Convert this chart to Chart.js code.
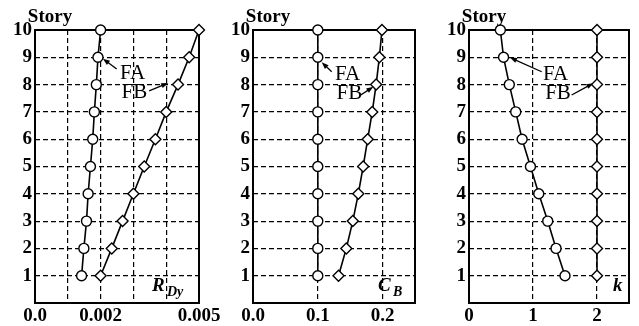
<!DOCTYPE html>
<html>
<head>
<meta charset="utf-8">
<script src="https://cdn.jsdelivr.net/npm/chart.js@4/dist/chart.umd.min.js"></script>
<style>
  html, body { margin: 0; padding: 0; background: #fff; }
  #wrap { position: relative; width: 639px; height: 326px; overflow: hidden; }
  #wrap canvas { position: absolute; top: 0; }
</style>
</head>
<body>
<div id="wrap">
  <canvas id="rdy"></canvas>
  <canvas id="cb"></canvas>
  <canvas id="k"></canvas>
</div>
<script>
// story levels, bottom to top
const stories = [1, 2, 3, 4, 5, 6, 7, 8, 9, 10];
const storyTicks = [0, 1, 2, 3, 4, 5, 6, 7, 8, 9, 10];

// drift ratio R_Dy per story
const rdyFA = [0.00142, 0.00149, 0.00157, 0.00162, 0.00169, 0.00176, 0.00181, 0.00187, 0.00192, 0.002];
const rdyFB = [0.002, 0.00234, 0.00267, 0.003, 0.00333, 0.00367, 0.004, 0.00436, 0.0047, 0.005];
const rdyTicks = [0, 0.001, 0.002, 0.003, 0.004, 0.005];
const rdyLabels = ['0.0', '', '0.002', '', '', '0.005'];

// base shear coefficient C_B per story
const cbFA = [0.1, 0.1, 0.1, 0.1, 0.1, 0.1, 0.1, 0.1, 0.1, 0.1];
const cbFB = [0.132, 0.144, 0.154, 0.1625, 0.17, 0.177, 0.184, 0.19, 0.195, 0.199];
const cbTicks = [0, 0.1, 0.2, 0.25];
const cbLabels = ['0.0', '0.1', '0.2', ''];

// k per story
const kFA = [1.5, 1.36, 1.23, 1.09, 0.96, 0.83, 0.73, 0.63, 0.54, 0.49];
const kFB = [2, 2, 2, 2, 2, 2, 2, 2, 2, 2];
const kTicks = [0, 1, 2, 2.5];
const kLabels = ['0', '1', '2', ''];

const SERIF = '"Liberation Serif", "Times New Roman", serif';
const Y_W = 35;     // y axis strip width
const X_H = 23;     // x axis strip height

const panels = [
  { id: 'rdy', areaLeft: 35, areaW: 164, padR: 24, fa: rdyFA, fb: rdyFB, ticks: rdyTicks, labels: rdyLabels,
    sym: 'R', sub: 'Dy', symDx: -47, subDx: -32,
    faText: [0.00259, 8.39], faArrow: [0.00249, 8.57, 0.00207, 8.95],
    fbText: [0.00264, 7.72], fbArrow: [0.00348, 7.77, 0.00406, 8.06] },
  { id: 'cb', areaLeft: 253, areaW: 162, padR: 24, fa: cbFA, fb: cbFB, ticks: cbTicks, labels: cbLabels,
    sym: 'C', sub: 'B', symDx: -37, subDx: -22,
    faText: [0.1265, 8.37], faArrow: [0.1214, 8.47, 0.106, 8.82],
    fbText: [0.129, 7.66], fbArrow: [0.165, 7.6, 0.1857, 7.92] },
  { id: 'k', areaLeft: 469, areaW: 160, padR: 10, fa: kFA, fb: kFB, ticks: kTicks, labels: kLabels,
    sym: 'k', sub: '', symDx: -16, subDx: 0,
    faText: [1.156, 8.37], faArrow: [1.136, 8.47, 0.64, 8.99],
    fbText: [1.19, 7.66], fbArrow: [1.604, 7.62, 1.943, 8.05] }
];

function arrow(ctx, x1, y1, x2, y2) {
  const a = Math.atan2(y2 - y1, x2 - x1);
  const len = 7, half = 2.6;
  ctx.beginPath();
  ctx.moveTo(x1, y1);
  ctx.lineTo(x2 - Math.cos(a) * len * 0.8, y2 - Math.sin(a) * len * 0.8);
  ctx.stroke();
  ctx.beginPath();
  ctx.moveTo(x2, y2);
  ctx.lineTo(x2 - Math.cos(a) * len - Math.sin(a) * half, y2 - Math.sin(a) * len + Math.cos(a) * half);
  ctx.lineTo(x2 - Math.cos(a) * len + Math.sin(a) * half, y2 - Math.sin(a) * len - Math.cos(a) * half);
  ctx.closePath();
  ctx.fill();
}

// box around the plot area, under the markers
const framePlugin = {
  id: 'frame',
  beforeDatasetsDraw(chart) {
    const { ctx, chartArea: a } = chart;
    ctx.save();
    ctx.strokeStyle = '#000';
    ctx.lineWidth = 2;
    ctx.strokeRect(a.left, a.top, a.right - a.left, a.bottom - a.top);
    ctx.restore();
  }
};

// "Story" heading, variable symbol and FA / FB pointers
const notesPlugin = {
  id: 'notes',
  afterDatasetsDraw(chart, args, p) {
    const { ctx, chartArea: a, scales: { x, y } } = chart;
    ctx.save();
    ctx.fillStyle = '#000';
    ctx.strokeStyle = '#000';
    ctx.lineWidth = 1.3;

    ctx.font = 'bold 19px ' + SERIF;
    ctx.textAlign = 'center';
    ctx.textBaseline = 'alphabetic';
    ctx.fillText('Story', a.left + 15, 22);

    ctx.textAlign = 'left';
    ctx.font = 'italic bold 19px ' + SERIF;
    ctx.fillText(p.sym, a.right + p.symDx, a.bottom - 12);
    if (p.sub) {
      ctx.font = 'italic bold 14px ' + SERIF;
      ctx.fillText(p.sub, a.right + p.subDx, a.bottom - 7);
    }

    ctx.font = '21px ' + SERIF;
    ctx.textBaseline = 'middle';
    ctx.fillText('FA', x.getPixelForValue(p.faText[0]), y.getPixelForValue(p.faText[1]));
    ctx.fillText('FB', x.getPixelForValue(p.fbText[0]), y.getPixelForValue(p.fbText[1]));
    [p.faArrow, p.fbArrow].forEach(s => arrow(ctx,
      x.getPixelForValue(s[0]), y.getPixelForValue(s[1]),
      x.getPixelForValue(s[2]), y.getPixelForValue(s[3])));
    ctx.restore();
  }
};

function series(xs, style, radius) {
  return {
    data: xs.map((v, i) => ({ x: v, y: stories[i] })),
    borderColor: '#000',
    borderWidth: 1.6,
    pointStyle: style,
    pointRadius: radius,
    pointBackgroundColor: '#fff',
    pointBorderColor: '#000',
    pointBorderWidth: 1.4,
    tension: 0,
    clip: false
  };
}

const edgeGrid = (ticks) => c => {
  const v = c.tick ? c.tick.value : null;
  return (v === ticks[0] || v === ticks[ticks.length - 1]) ? 'rgba(0,0,0,0)' : '#000';
};

panels.forEach(p => {
  const cv = document.getElementById(p.id);
  const w = Y_W + p.areaW + p.padR;
  cv.width = w;
  cv.height = 326;
  cv.style.left = (p.areaLeft - Y_W) + 'px';
  cv.style.width = w + 'px';
  cv.style.height = '326px';

  new Chart(cv, {
    type: 'line',
    data: { datasets: [series(p.fa, 'circle', 5), series(p.fb, 'rectRot', 5.5)] },
    options: {
      responsive: false,
      animation: false,
      devicePixelRatio: 1,
      layout: { padding: { top: 30, right: p.padR, left: 0, bottom: 0 } },
      plugins: { legend: { display: false }, tooltip: { enabled: false }, notes: p },
      scales: {
        x: {
          type: 'linear',
          min: p.ticks[0],
          max: p.ticks[p.ticks.length - 1],
          afterBuildTicks: s => { s.ticks = p.ticks.map(v => ({ value: v })); },
          afterFit: s => { s.height = X_H; },
          ticks: {
            autoSkip: false,
            maxRotation: 0,
            padding: 2,
            color: '#000',
            font: { family: SERIF, size: 19, weight: 'bold' },
            callback: (v, i) => p.labels[i]
          },
          grid: { drawTicks: false, lineWidth: 1.2, color: edgeGrid(p.ticks) },
          border: { display: false, dash: [5, 3] }
        },
        y: {
          type: 'linear',
          min: 0,
          max: 10,
          afterBuildTicks: s => { s.ticks = storyTicks.map(v => ({ value: v })); },
          afterFit: s => { s.width = Y_W; },
          ticks: {
            autoSkip: false,
            padding: 3,
            color: '#000',
            font: { family: SERIF, size: 19, weight: 'bold' },
            callback: v => v === 0 ? '' : String(v)
          },
          grid: { drawTicks: false, lineWidth: 1.2, color: edgeGrid(storyTicks) },
          border: { display: false, dash: [5, 3] }
        }
      }
    },
    plugins: [framePlugin, notesPlugin]
  });
});
</script>
</body>
</html>
